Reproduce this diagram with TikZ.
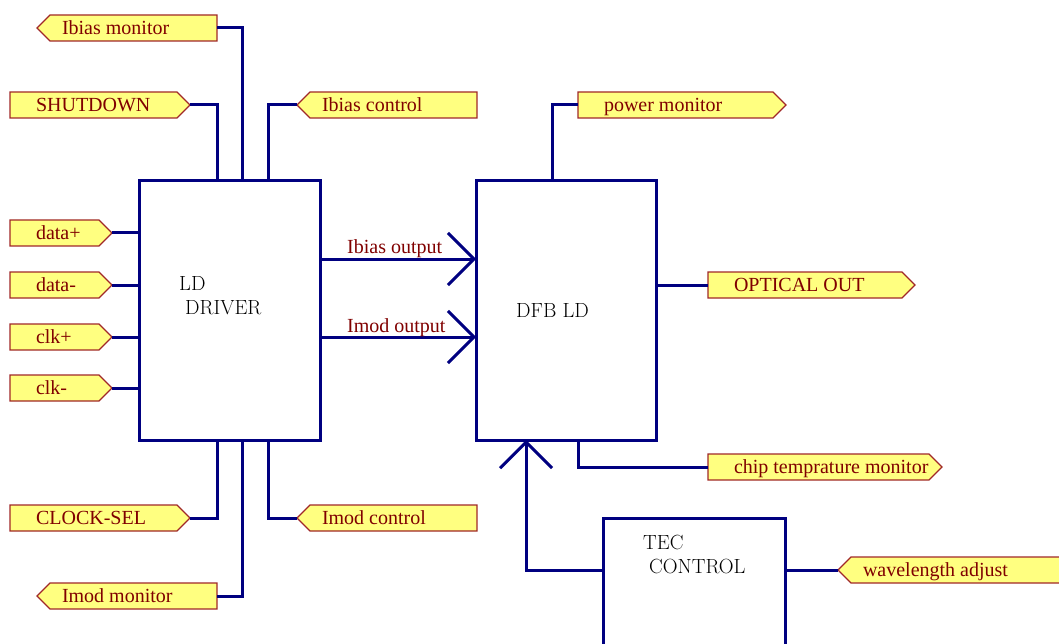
\documentclass[tikz,border=0pt]{standalone}
\usepackage{fontspec}
\newfontfamily\tagfont{Liberation Serif}
\usetikzlibrary{shapes.symbols,arrows.meta}

\definecolor{wireblue}{RGB}{0,0,128}
\definecolor{tagfill}{RGB}{255,255,128}
\definecolor{tagline}{RGB}{160,40,40}
\definecolor{tagtext}{RGB}{128,0,0}

\begin{document}
\begin{tikzpicture}[x=1pt,y=-1pt,
  tag/.style={signal, signal pointer angle=90, draw=tagline, fill=tagfill, line width=1.2pt,
    minimum height=26pt, inner xsep=0pt, inner ysep=0pt, outer sep=0pt,
    text height=13pt, text depth=0pt, text=tagtext, font=\tagfont\fontsize{20}{20}\selectfont, anchor=west},
  tagR/.style={tag, signal to=east,
    execute at begin node={\hbox to #1pt\bgroup\hskip26pt}, execute at end node={\hss\egroup}},
  tagL/.style={tag, signal to=west,
    execute at begin node={\hbox to #1pt\bgroup\hskip12pt}, execute at end node={\hss\egroup}},
  block/.style={draw=wireblue, line width=3pt, anchor=north west, inner sep=0pt, outer sep=0pt},
  blocktext/.style={font=\rmfamily\fontsize{20.5}{24}\selectfont, text=black, align=left, anchor=west, inner sep=0pt},
  outlabel/.style={font=\tagfont\fontsize{20}{20}\selectfont, text=tagtext, anchor=base west, inner sep=0pt},
  wire/.style={draw=wireblue, line width=3pt},
  arrow/.style={wire, -{Straight Barb[length=26pt,width=52pt]}}
]
\useasboundingbox (0,0) rectangle (1059,644);
\clip (0,0) rectangle (1059,644);

% Blocks
\node[block, minimum width=181pt, minimum height=259pt] (drv) at (139,181) {};
\node[block, minimum width=180pt, minimum height=259pt] (dfb) at (476,181) {};
\node[block, minimum width=182pt, minimum height=200pt] (tec) at (603,518) {};
\node[blocktext] (drvtxt) at (179,296) {LD\\\hspace*{6pt}DRIVER};
\node[blocktext] (dfbtxt) at (516,310) {DFB LD};
\node[blocktext] (tectxt) at (643,554) {TEC\\\hspace*{6pt}CONTROL};

% Tags of the driver
\node[tagL=167] (ibm) at (37,28) {Ibias monitor};
\node[tagR=167] (sd) at (10,105) {SHUTDOWN};
\node[tagL=167] (ibc) at (297,105) {Ibias control};
\node[tagR=89] (dp) at (10,233) {data+};
\node[tagR=89] (dm) at (10,285) {data-};
\node[tagR=89] (cp) at (10,337) {clk+};
\node[tagR=89] (cm) at (10,388) {clk-};
\node[tagR=167] (cs) at (10,518) {CLOCK-SEL};
\node[tagL=167] (imc) at (297,518) {Imod control};
\node[tagL=167] (imm) at (37,596) {Imod monitor};

% Tags of the laser and the TEC
\node[tagR=195] (pm) at (578,105) {power monitor};
\node[tagR=194] (oo) at (708,285) {OPTICAL OUT};
\node[tagR=221] (ct) at (708,467) {chip temprature monitor};
\node[tagL=219] (wa) at (838,570) {wavelength adjust};

% Pins on the block edges
\coordinate (dt1) at (217,181);
\coordinate (dt2) at (242,181);
\coordinate (dt3) at (268,181);
\coordinate (db1) at (217,440);
\coordinate (db2) at (242,440);
\coordinate (db3) at (268,440);
\coordinate (ibo) at (476,259);
\coordinate (imo) at (476,337);
\coordinate (pt1) at (552,181);
\coordinate (pb0) at (526,440);
\coordinate (pb1) at (578,440);

% Wires
\draw[wire] (ibm.east) -| (dt2);
\draw[wire] (sd.east) -| (dt1);
\draw[wire] (ibc.west) -| (dt3);
\foreach \t in {dp,dm,cp,cm}
  \draw[wire] (\t.east) -- (\t.east -| drv.west);
\draw[wire] (cs.east) -| (db1);
\draw[wire] (imm.east) -| (db2);
\draw[wire] (imc.west) -| (db3);

\draw[arrow] (drv.east |- ibo) -- (ibo);
\draw[arrow] (drv.east |- imo) -- (imo);
\node[outlabel] (ibolbl) at (347,254) {Ibias output};
\node[outlabel] (imolbl) at (347,332) {Imod output};

\draw[wire] (pt1) |- (pm.west);
\draw[wire] (dfb.east |- oo.west) -- (oo.west);
\draw[wire] (pb1) |- (ct.west);
\draw[arrow] (tec.west |- wa.west) -| (pb0);
\draw[wire] (tec.east |- wa.west) -- (wa.west);
\end{tikzpicture}
\end{document}
